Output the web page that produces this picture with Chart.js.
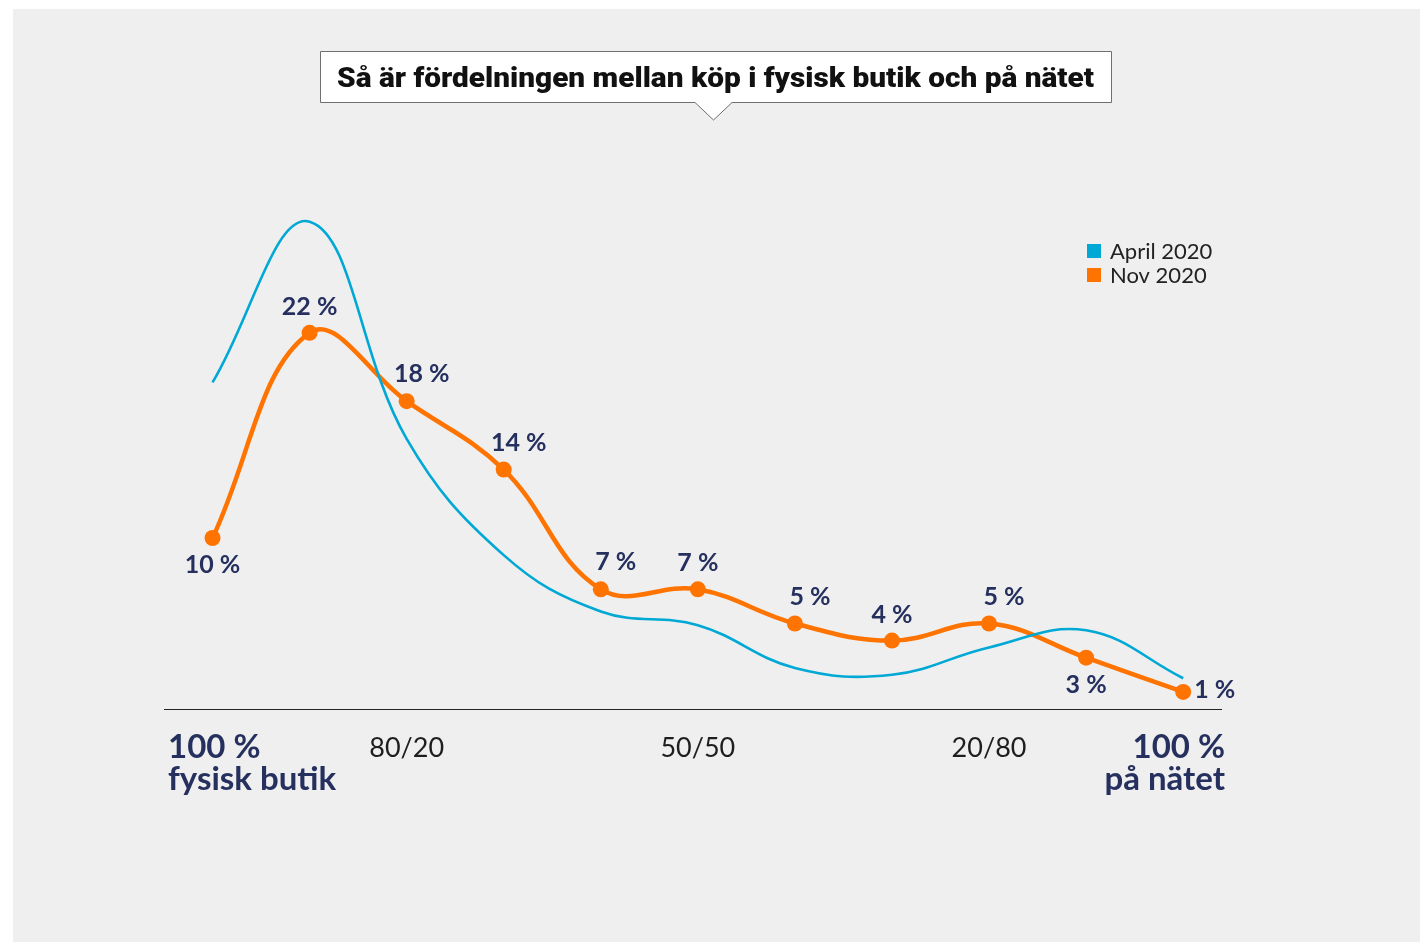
<!DOCTYPE html>
<html lang="sv">
<head>
<meta charset="utf-8">
<title>Köp i fysisk butik och på nätet</title>
<script src="https://cdn.jsdelivr.net/npm/chart.js@4.4.1/dist/chart.umd.min.js"></script>
<style>
  html, body { margin: 0; padding: 0; background: #ffffff; }
  canvas { display: block; }
</style>
</head>
<body>
<canvas id="myChart" width="1427" height="942"></canvas>
<script>
// Fördelning fysisk butik / nätet (0 = 100 % fysisk butik, 10 = 100 % på nätet)
const kategorier = ["100/0", "90/10", "80/20", "70/30", "60/40", "50/50", "40/60", "30/70", "20/80", "10/90", "0/100"]
const april2020 = [19.1, 28.5, 15.8, 9.0, 5.7, 4.9, 2.4, 2.0, 3.6, 4.6, 1.8]
const nov2020 = [10, 22, 18, 14, 7, 7, 5, 4, 5, 3, 1]
const etiketter = ["10 %", "22 %", "18 %", "14 %", "7 %", "7 %", "5 %", "4 %", "5 %", "3 %", "1 %"]
const axelEtiketter = [
    { index: 2, text: "80/20" },
    { index: 5, text: "50/50" },
    { index: 8, text: "20/80" }
]
const titel = "Så är fördelningen mellan köp i fysisk butik och på nätet"

const NAVY = "#25305e"
const BLUE = "#00a8d6"
const ORANGE = "#ff7300"

// var etiketten hamnar runt punkten
const placering = ["below", "above", "aboveRight", "aboveRight", "aboveRight", "above", "aboveRight", "above", "aboveRight", "below", "right"]

const bakgrund = {
    id: "bakgrund",
    beforeDraw(chart) {
        const ctx = chart.ctx
        ctx.save()
        ctx.fillStyle = "#ffffff"
        ctx.fillRect(0, 0, chart.width, chart.height)
        ctx.fillStyle = "#efefef"
        ctx.fillRect(13, 9, 1407, 933)

        // titelruta med pil
        ctx.fillStyle = "#ffffff"
        ctx.strokeStyle = "#6f6f6f"
        ctx.lineWidth = 1
        ctx.beginPath()
        ctx.moveTo(695, 102.5)
        ctx.lineTo(320.5, 102.5)
        ctx.lineTo(320.5, 51.5)
        ctx.lineTo(1111.5, 51.5)
        ctx.lineTo(1111.5, 102.5)
        ctx.lineTo(732, 102.5)
        ctx.lineTo(713.5, 120)
        ctx.closePath()
        ctx.fill()
        ctx.stroke()

        ctx.fillStyle = "#111111"
        ctx.font = "900 28px Roboto"
        ctx.textBaseline = "alphabetic"
        ctx.textAlign = "left"
        const w = ctx.measureText(titel).width
        const sx = 757 / w
        ctx.translate(337, 87)
        ctx.scale(sx, 1)
        ctx.fillText(titel, 0, 0)
        ctx.restore()
    }
}

const axel = {
    id: "axel",
    beforeDatasetsDraw(chart) {
        const ctx = chart.ctx
        const area = chart.chartArea
        const x = chart.scales.x
        ctx.save()
        ctx.strokeStyle = "#222222"
        ctx.lineWidth = 1.2
        ctx.beginPath()
        ctx.moveTo(area.left, area.bottom + 0.5)
        ctx.lineTo(area.right, area.bottom + 0.5)
        ctx.stroke()

        ctx.fillStyle = "#1e1e1e"
        ctx.font = "27px Lato"
        ctx.textAlign = "center"
        ctx.textBaseline = "middle"
        axelEtiketter.forEach((e) => {
            ctx.fillText(e.text, x.getPixelForValue(e.index), area.bottom + 39)
        })

        ctx.fillStyle = NAVY
        ctx.font = "bold 33px Lato"
        ctx.textAlign = "left"
        ctx.fillText("100 %", area.left + 4, area.bottom + 38)
        ctx.fillText("fysisk butik", area.left + 4, area.bottom + 70)
        ctx.textAlign = "right"
        ctx.fillText("100 %", area.right + 3, area.bottom + 38)
        ctx.fillText("på nätet", area.right + 3, area.bottom + 70)

        // förklaring
        ctx.fillStyle = BLUE
        ctx.fillRect(1087, 244, 14, 14)
        ctx.fillStyle = ORANGE
        ctx.fillRect(1087, 268, 14, 14)
        ctx.fillStyle = "#222222"
        ctx.font = "22px Lato"
        ctx.textBaseline = "middle"
        ctx.textAlign = "left"
        ctx.fillText("April 2020", 1110, 252)
        ctx.fillText("Nov 2020", 1110, 276)
        ctx.restore()
    }
}

const varden = {
    id: "varden",
    afterDatasetsDraw(chart) {
        const ctx = chart.ctx
        const meta = chart.getDatasetMeta(1)
        ctx.save()
        ctx.fillStyle = NAVY
        ctx.font = "bold 25px Lato"
        ctx.textBaseline = "middle"
        meta.data.forEach((p, i) => {
            const text = etiketter[i]
            let dx = 0, dy = 0
            ctx.textAlign = "center"
            switch (placering[i]) {
                case "above":
                    dy = -26
                    break
                case "aboveRight":
                    dx = 15
                    dy = -27
                    break
                case "below":
                    dy = 27
                    break
                case "right":
                    ctx.textAlign = "left"
                    dx = 11
                    dy = -2
                    break
            }
            ctx.fillText(text, p.x + dx, p.y + dy)
        })
        ctx.restore()
    }
}

const data = {
    datasets: [
        {
            label: "April 2020",
            data: april2020.map((v, i) => ({ x: i, y: v })),
            borderColor: BLUE,
            borderWidth: 2.6,
            pointRadius: 0,
            tension: 0.4,
            fill: false
        },
        {
            label: "Nov 2020",
            data: nov2020.map((v, i) => ({ x: i, y: v })),
            borderColor: ORANGE,
            backgroundColor: ORANGE,
            borderWidth: 4.5,
            pointRadius: 8,
            pointBorderWidth: 0,
            pointBackgroundColor: ORANGE,
            tension: 0.4,
            fill: false
        }
    ]
}

const config = {
    type: "line",
    data,
    options: {
        responsive: false,
        animation: false,
        layout: {
            padding: { left: 164, right: 205, top: 196, bottom: 233 }
        },
        scales: {
            x: { type: "linear", min: -0.5, max: kategorier.length - 0.6, display: false },
            y: { min: 0, max: 30, display: false }
        },
        plugins: {
            legend: { display: false },
            tooltip: { enabled: false }
        }
    },
    plugins: [bakgrund, axel, varden]
}

const myChartElement = document.getElementById("myChart")
window.myChartInstance = new Chart(myChartElement, config)
</script>
</body>
</html>
